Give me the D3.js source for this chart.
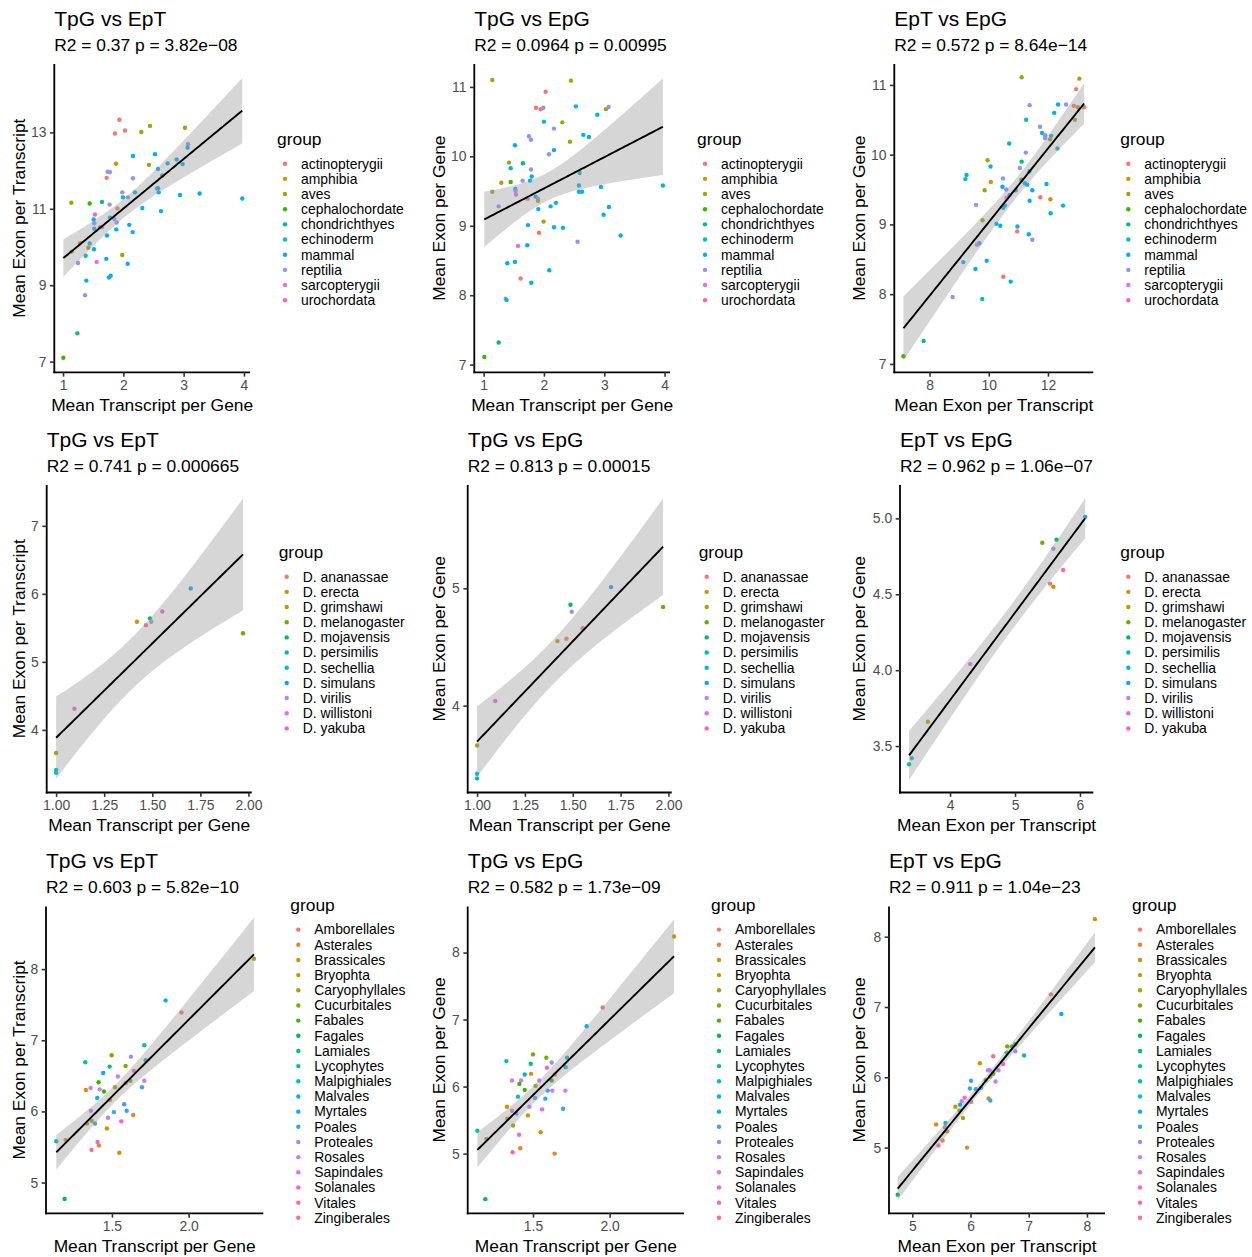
<!DOCTYPE html>
<html><head><meta charset="utf-8">
<script src="https://cdn.jsdelivr.net/npm/d3@7"></script>
<style>
body{margin:0;background:#fff}
svg{display:block}
text{font-family:"Liberation Sans",Arial,Helvetica,sans-serif}
</style>
</head><body>
<svg id="chart" width="1252" height="1257"></svg>
<script>
// ---------------- DATA ----------------
// Vertebrate dataset groups
const vertGroups = ["actinopterygii","amphibia","aves","cephalochordate","chondrichthyes","echinoderm","mammal","reptilia","sarcopterygii","urochordata"];
// [groupIndex, x, y]
const vertTpgEpt = [[0,1.934,13.33],[0,1.862,12.97],[0,2.028,13.05],[2,2.442,13.17],[2,2.298,13.01],[2,3.022,13.12],[7,3.072,12.69],[6,3.066,12.60],[6,2.160,12.38],[6,2.525,12.43],[6,2.884,12.29],[6,2.735,12.19],[6,2.983,12.17],[6,2.575,12.04],[5,2.646,11.87],[1,1.878,12.18],[2,2.425,12.15],[7,1.740,11.97],[7,1.779,11.96],[0,1.724,11.81],[7,2.160,11.80],[7,1.983,11.43],[6,2.193,11.43],[5,1.994,11.30],[7,2.077,11.30],[7,2.558,11.53],[6,2.586,11.43],[6,2.575,11.54],[6,2.939,11.36],[6,3.265,11.40],[6,3.972,11.27],[2,1.138,11.16],[3,1.442,11.14],[4,1.646,11.18],[7,1.773,11.11],[0,1.901,11.01],[6,2.315,11.02],[6,2.624,10.94],[9,1.530,10.85],[6,1.508,10.72],[6,1.779,10.77],[7,1.851,10.73],[7,1.890,10.64],[7,1.519,10.62],[0,1.613,10.52],[7,1.646,10.52],[6,1.519,10.48],[6,1.884,10.46],[6,2.099,10.58],[6,1.729,10.30],[6,2.155,10.39],[1,1.282,10.10],[6,1.442,10.09],[2,1.144,9.88],[2,1.420,9.98],[6,1.514,9.94],[5,1.376,9.77],[2,1.983,9.79],[6,1.718,9.69],[7,1.249,9.58],[8,1.558,9.61],[6,2.072,9.56],[6,1.387,9.12],[6,1.762,9.20],[6,1.790,9.25],[7,1.365,8.74],[4,1.238,7.74],[3,1.006,7.10]];
const vertTpgEpg = [[2,1.144,11.10],[2,2.448,11.09],[0,2.028,10.93],[0,1.867,10.70],[0,1.945,10.68],[7,1.989,10.70],[6,2.530,10.72],[2,3.028,10.68],[7,3.072,10.71],[6,2.884,10.60],[5,2.000,10.50],[2,2.304,10.49],[7,2.166,10.40],[7,1.751,10.29],[7,1.785,10.24],[6,2.652,10.31],[6,2.746,10.28],[2,2.431,10.21],[6,1.519,10.16],[6,2.166,10.09],[7,2.083,10.03],[2,1.420,9.91],[4,1.652,9.90],[6,1.448,9.83],[7,1.785,9.81],[5,2.591,9.76],[6,1.796,9.71],[1,1.293,9.62],[3,1.448,9.63],[7,1.646,9.65],[6,1.768,9.65],[6,2.580,9.58],[6,2.945,9.56],[6,3.972,9.58],[2,1.144,9.49],[6,1.525,9.53],[7,1.530,9.50],[8,1.536,9.45],[6,2.580,9.49],[6,2.630,9.49],[6,1.862,9.42],[0,1.729,9.39],[7,1.901,9.39],[1,1.901,9.36],[7,1.249,9.28],[6,2.110,9.28],[6,2.199,9.33],[6,1.906,9.24],[6,3.077,9.27],[6,2.989,9.16],[2,1.994,9.06],[6,1.735,9.01],[6,2.166,8.98],[6,2.315,8.97],[0,1.917,8.90],[6,3.271,8.86],[7,2.558,8.77],[8,1.569,8.71],[6,1.724,8.72],[6,1.392,8.46],[6,1.519,8.48],[6,2.088,8.36],[0,1.613,8.24],[6,1.790,8.18],[7,1.365,7.95],[5,1.381,7.93],[4,1.249,7.32],[3,1.011,7.11]];
const vertEptEpg = [[2,11.11,11.11],[2,13.06,11.09],[0,12.95,10.94],[7,11.38,10.71],[6,12.34,10.72],[7,12.61,10.72],[0,12.87,10.70],[2,13.01,10.68],[0,13.22,10.68],[6,12.21,10.60],[5,11.26,10.50],[2,12.91,10.50],[7,11.73,10.40],[6,11.80,10.31],[7,11.91,10.28],[7,11.90,10.24],[6,12.11,10.27],[2,12.07,10.22],[6,10.69,10.16],[6,12.32,10.09],[7,11.25,10.03],[2,9.96,9.92],[4,11.11,9.90],[6,10.06,9.83],[7,11.05,9.81],[6,11.37,9.76],[6,9.25,9.71],[6,9.21,9.65],[7,10.48,9.66],[1,10.07,9.61],[3,11.10,9.64],[6,11.22,9.59],[6,11.30,9.57],[6,11.95,9.58],[6,10.46,9.54],[2,9.86,9.49],[7,10.59,9.50],[6,10.91,9.49],[6,11.47,9.49],[0,11.74,9.39],[1,12.08,9.36],[6,10.70,9.42],[8,10.60,9.38],[6,11.38,9.34],[7,9.57,9.28],[6,12.51,9.27],[6,10.55,9.27],[6,10.49,9.24],[6,12.09,9.16],[2,9.79,9.06],[6,10.26,9.01],[6,10.39,8.98],[6,10.97,8.97],[0,10.96,8.90],[6,11.35,8.86],[7,11.47,8.78],[6,9.68,8.73],[8,9.60,8.71],[6,9.14,8.46],[6,9.93,8.48],[6,9.55,8.36],[0,10.49,8.25],[6,10.74,8.18],[7,8.78,7.96],[5,9.78,7.93],[4,7.80,7.33],[3,7.12,7.11]];

// Drosophila dataset
const droGroups = ["D. ananassae","D. erecta","D. grimshawi","D. melanogaster","D. mojavensis","D. persimilis","D. sechellia","D. simulans","D. virilis","D. willistoni","D. yakuba"];
const droTpg = [1.467,1.420,1.000,1.972,1.488,1.000,1.000,1.700,1.495,1.095,1.552];
const droEpt = [5.54,5.59,3.66,5.42,5.64,3.37,3.41,6.08,5.59,4.31,5.74];
const droEpg = [4.57,4.55,3.66,4.84,4.86,3.38,3.42,5.01,4.80,4.04,4.66];

// Plant dataset
const plantGroups = ["Amborellales","Asterales","Brassicales","Bryophta","Caryophyllales","Cucurbitales","Fabales","Fagales","Lamiales","Lycophytes","Malpighiales","Malvales","Myrtales","Poales","Proteales","Rosales","Sapindales","Solanales","Vitales","Zingiberales"];
const plantTpgEpt = [[3,2.426,8.145],[12,1.85,7.56],[0,1.954,7.39],[10,1.711,6.93],[10,1.72,6.72],[9,1.326,6.69],[5,1.498,6.79],[14,1.624,6.77],[8,1.485,6.63],[5,1.589,6.64],[12,1.443,6.54],[15,1.539,6.49],[18,1.643,6.57],[6,1.413,6.41],[2,1.33,6.30],[15,1.361,6.33],[15,1.42,6.31],[6,1.448,6.28],[4,1.52,6.34],[15,1.711,6.43],[5,1.62,6.43],[19,1.59,6.40],[13,1.696,6.34],[11,1.404,6.19],[2,1.487,6.16],[13,1.580,6.10],[13,1.596,6.01],[16,1.363,6.01],[13,1.513,5.99],[1,1.639,5.95],[15,1.474,5.91],[17,1.561,5.86],[4,1.367,5.87],[4,1.337,5.83],[13,1.389,5.83],[2,1.467,5.76],[9,1.137,5.58],[3,1.198,5.60],[17,1.406,5.57],[1,1.415,5.52],[18,1.367,5.46],[2,1.548,5.42],[7,1.191,4.77]];
const plantTpgEpg = [[3,2.42,8.24],[0,1.954,7.18],[12,1.85,6.90],[5,1.5,6.48],[5,1.587,6.43],[9,1.326,6.38],[10,1.722,6.43],[8,1.485,6.34],[14,1.622,6.36],[10,1.713,6.29],[19,1.591,6.28],[2,1.487,6.19],[12,1.446,6.18],[18,1.643,6.18],[15,1.363,6.09],[15,1.422,6.09],[15,1.541,6.09],[6,1.622,6.09],[6,1.411,6.04],[4,1.517,6.01],[6,1.446,5.95],[13,1.596,5.94],[15,1.626,5.94],[15,1.711,5.94],[11,1.402,5.85],[13,1.513,5.83],[13,1.580,5.82],[2,1.330,5.70],[15,1.476,5.70],[13,1.696,5.67],[17,1.559,5.66],[16,1.363,5.64],[13,1.391,5.60],[4,1.333,5.52],[2,1.467,5.57],[4,1.37,5.42],[2,1.55,5.32],[9,1.137,5.34],[17,1.409,5.28],[3,1.196,5.22],[1,1.417,5.08],[18,1.367,5.02],[1,1.641,5.00],[7,1.189,4.32]];
const plantEptEpg = [[3,8.137,8.25],[0,7.38,7.18],[12,7.56,6.90],[5,6.63,6.44],[8,6.71,6.44],[6,6.77,6.47],[9,6.62,6.35],[14,6.77,6.37],[10,6.92,6.31],[19,6.39,6.30],[2,6.16,6.20],[18,6.56,6.19],[15,6.30,6.10],[15,6.33,6.10],[15,6.48,6.10],[6,6.39,6.05],[4,6.34,6.01],[6,6.26,5.96],[13,6.01,5.95],[15,6.43,5.94],[13,5.99,5.84],[13,6.09,5.83],[11,6.18,5.85],[16,5.90,5.71],[2,6.31,5.70],[13,6.34,5.67],[2,5.74,5.58],[15,5.85,5.66],[12,5.82,5.61],[16,6.01,5.65],[4,5.81,5.53],[4,5.87,5.42],[2,5.41,5.33],[9,5.57,5.35],[17,5.56,5.29],[3,5.60,5.23],[1,5.52,5.10],[18,5.45,5.03],[1,5.94,5.00],[7,4.75,4.33]];

// Titles / subtitles
const panelTitles = ["TpG vs EpT","TpG vs EpG","EpT vs EpG","TpG vs EpT","TpG vs EpG","EpT vs EpG","TpG vs EpT","TpG vs EpG","EpT vs EpG"];
const panelSubtitles = ["R2 = 0.37 p = 3.82e\u221208","R2 = 0.0964 p = 0.00995","R2 = 0.572 p = 8.64e\u221214","R2 = 0.741 p = 0.000665","R2 = 0.813 p = 0.00015","R2 = 0.962 p = 1.06e\u221207","R2 = 0.603 p = 5.82e\u221210","R2 = 0.582 p = 1.73e\u221209","R2 = 0.911 p = 1.04e\u221223"];
const labTpg = "Mean Transcript per Gene", labEpt = "Mean Exon per Transcript", labEpg = "Mean Exon per Gene";

// Tick values and labels
const ticksTpgVert = [1,2,3,4], ticksTpgVertLab = ["1","2","3","4"];
const ticksEptVertY = [7,9,11,13], ticksEptVertYLab = ["7","9","11","13"];
const ticksEpgVert = [7,8,9,10,11], ticksEpgVertLab = ["7","8","9","10","11"];
const ticksEptVertX = [8,10,12], ticksEptVertXLab = ["8","10","12"];
const ticksTpgDro = [1,1.25,1.5,1.75,2], ticksTpgDroLab = ["1.00","1.25","1.50","1.75","2.00"];
const ticksEptDroY = [4,5,6,7], ticksEptDroYLab = ["4","5","6","7"];
const ticksEpgDroA = [4,5], ticksEpgDroALab = ["4","5"];
const ticksEptDroX = [4,5,6], ticksEptDroXLab = ["4","5","6"];
const ticksEpgDroB = [3.5,4,4.5,5], ticksEpgDroBLab = ["3.5","4.0","4.5","5.0"];
const ticksTpgPlant = [1.5,2], ticksTpgPlantLab = ["1.5","2.0"];
const ticksPlantY = [5,6,7,8], ticksPlantYLab = ["5","6","7","8"];
const ticksEptPlantX = [5,6,7,8], ticksEptPlantXLab = ["5","6","7","8"];

// ---------------- STYLE / LAYOUT ----------------
const pal10 = ["#F8766D","#D89000","#A3A500","#39B600","#00BF7D","#00BFC4","#00B0F6","#9590FF","#E76BF3","#FF62BC"];
const pal11 = ["#F8766D","#DB8E00","#AEA200","#64B200","#00BD5C","#00C1A7","#00BADE","#00A6FF","#B385FF","#EF67EB","#FF63B6"];
const pal20 = ["#F8766D","#EA8331","#D89000","#C09B00","#A3A500","#7CAE00","#39B600","#00BB4E","#00BF7D","#00C1A3","#00BFC4","#00BAE0","#00B0F6","#35A2FF","#9590FF","#C77CFF","#E76BF3","#FA62DB","#FF62BC","#FF6C91"];

const rowTop = [64, 485, 906.5], rowBot = [372.3, 792.5, 1213.3];
const rowTitleC = [18, 439.5, 860.5], rowSubC = [45, 466, 887];
const colX0 = [0, 420, 840];

const droTE = droGroups.map((g,i)=>[i, droTpg[i], droEpt[i]]);
const droTG = droGroups.map((g,i)=>[i, droTpg[i], droEpg[i]]);
const droEG = droGroups.map((g,i)=>[i, droEpt[i], droEpg[i]]);

const panels = [
 {pts:vertTpgEpt, groups:vertGroups, pal:pal10, xlab:labTpg, ylab:labEpt, xd:[0.856,4.10], yd:[6.72,14.79], xt:ticksTpgVert, xtl:ticksTpgVertLab, yt:ticksEptVertY, ytl:ticksEptVertYLab, L:54.3, R:250},
 {pts:vertTpgEpg, groups:vertGroups, pal:pal10, xlab:labTpg, ylab:labEpg, xd:[0.845,4.09], yd:[6.89,11.33], xt:ticksTpgVert, xtl:ticksTpgVertLab, yt:ticksEpgVert, ytl:ticksEpgVertLab, L:474.3, R:670},
 {pts:vertEptEpg, groups:vertGroups, pal:pal10, xlab:labEpt, ylab:labEpg, xd:[6.81,13.53], yd:[6.88,11.30], xt:ticksEptVertX, xtl:ticksEptVertXLab, yt:ticksEpgVert, ytl:ticksEpgVertLab, L:894.3, R:1093.3},
 {pts:droTE, groups:droGroups, pal:pal11, xlab:labTpg, ylab:labEpt, xd:[0.951,2.017], yd:[3.08,7.60], xt:ticksTpgDro, xtl:ticksTpgDroLab, yt:ticksEptDroY, ytl:ticksEptDroYLab, L:46.7, R:251.7},
 {pts:droTG, groups:droGroups, pal:pal11, xlab:labTpg, ylab:labEpg, xd:[0.951,2.017], yd:[3.26,5.88], xt:ticksTpgDro, xtl:ticksTpgDroLab, yt:ticksEpgDroA, ytl:ticksEpgDroALab, L:467.7, R:671.7},
 {pts:droEG, groups:droGroups, pal:pal11, xlab:labEpt, ylab:labEpg, xd:[3.23,6.205], yd:[3.194,5.22], xt:ticksEptDroX, xtl:ticksEptDroXLab, yt:ticksEpgDroB, ytl:ticksEpgDroBLab, L:900, R:1093.3},
 {pts:plantTpgEpt, groups:plantGroups, pal:pal20, xlab:labTpg, ylab:labEpt, xd:[1.070,2.487], yd:[4.568,8.88], xt:ticksTpgPlant, xtl:ticksTpgPlantLab, yt:ticksPlantY, ytl:ticksPlantYLab, L:46, R:263.3},
 {pts:plantTpgEpg, groups:plantGroups, pal:pal20, xlab:labTpg, ylab:labEpg, xd:[1.074,2.485], yd:[4.109,8.687], xt:ticksTpgPlant, xtl:ticksTpgPlantLab, yt:ticksPlantY, ytl:ticksPlantYLab, L:467.7, R:684},
 {pts:plantEptEpg, groups:plantGroups, pal:pal20, xlab:labEpt, ylab:labEpg, xd:[4.60,8.31], yd:[4.065,8.43], xt:ticksEptPlantX, xtl:ticksEptPlantXLab, yt:ticksPlantY, ytl:ticksPlantYLab, L:889, R:1105}
];

// ---------------- STATS ----------------
function tq975(nu){
  const z=1.959964, z3=z**3, z5=z**5, z7=z**7, z9=z**9;
  const g1=(z3+z)/4, g2=(5*z5+16*z3+3*z)/96, g3=(3*z7+19*z5+17*z3-15*z)/384,
        g4=(79*z9+776*z7+1482*z5-1920*z3-945*z)/92160;
  return z+g1/nu+g2/nu**2+g3/nu**3+g4/nu**4;
}
function lmFit(pts){
  const xs=pts.map(d=>d[1]), ys=pts.map(d=>d[2]), n=xs.length;
  const mx=d3.mean(xs), my=d3.mean(ys);
  let sxx=0,sxy=0; for(let i=0;i<n;i++){sxx+=(xs[i]-mx)**2; sxy+=(xs[i]-mx)*(ys[i]-my);}
  const b=sxy/sxx, a=my-b*mx;
  let sse=0; for(let i=0;i<n;i++){sse+=(ys[i]-a-b*xs[i])**2;}
  const s=Math.sqrt(sse/(n-2)), t=tq975(n-2);
  const [x0,x1]=d3.extent(xs);
  return d3.range(81).map(i=>{const x=x0+(x1-x0)*i/80, yh=a+b*x, se=s*Math.sqrt(1/n+(x-mx)**2/sxx);
    return {x, y:yh, lo:yh-t*se, hi:yh+t*se};});
}

// ---------------- DRAW ----------------
const svg=d3.select("#chart");
const FS_TITLE=21, FS_SUB=17.4, FS_AXT=17.4, FS_TICK=13.9, FS_LEGT=17.4, FS_LEG=13.9, PT_R=2.2;

panels.forEach((p,idx)=>{
  const row=Math.floor(idx/3), col=idx%3;
  const T=rowTop[row], B=rowBot[row];
  const x=d3.scaleLinear().domain(p.xd).range([p.L,p.R]);
  const y=d3.scaleLinear().domain(p.yd).range([B,T]);
  const g=svg.append("g");
  const cid="clip"+idx;
  g.append("clipPath").attr("id",cid).append("rect").attr("x",p.L).attr("y",T).attr("width",p.R-p.L).attr("height",B-T);
  const body=g.append("g").attr("clip-path",`url(#${cid})`);
  body.selectAll("circle").data(p.pts).join("circle")
    .attr("cx",d=>x(d[1])).attr("cy",d=>y(d[2])).attr("r",PT_R).attr("fill",d=>p.pal[d[0]]);
  const fit=lmFit(p.pts);
  body.append("path").datum(fit)
    .attr("d",d3.area().x(d=>x(d.x)).y0(d=>y(d.lo)).y1(d=>y(d.hi)))
    .attr("fill","#999999").attr("fill-opacity",0.4);
  body.append("path").datum(fit)
    .attr("d",d3.line().x(d=>x(d.x)).y(d=>y(d.y)))
    .attr("fill","none").attr("stroke","#000").attr("stroke-width",1.9);

  // axes
  const ax=g.append("g").attr("transform",`translate(0,${B})`)
    .call(d3.axisBottom(x).tickValues(p.xt).tickFormat((d,i)=>p.xtl[i]).tickSize(4.35).tickSizeOuter(0).tickPadding(3.2));
  const ay=g.append("g").attr("transform",`translate(${p.L},0)`)
    .call(d3.axisLeft(y).tickValues(p.yt).tickFormat((d,i)=>p.ytl[i]).tickSize(4.35).tickSizeOuter(0).tickPadding(3.5));
  [ax,ay].forEach(a=>{
    a.select(".domain").attr("stroke","#000").attr("stroke-width",1.8);
    a.selectAll(".tick line").attr("stroke","#333333").attr("stroke-width",1.6);
    a.selectAll(".tick text").attr("fill","#4D4D4D").attr("font-size",FS_TICK)
      .attr("font-family",'"Liberation Sans",Arial,sans-serif');
  });
  // fix domain line to exact panel extent
  ax.select(".domain").attr("d",`M${p.L-0.9},0H${p.R}`);
  ay.select(".domain").attr("d",`M0,${B+0.9}V${T}`);

  // titles
  g.append("text").attr("x",p.L).attr("y",rowTitleC[row]+0.36*FS_TITLE).attr("font-size",FS_TITLE).attr("fill","#000").text(panelTitles[idx]);
  g.append("text").attr("x",p.L).attr("y",rowSubC[row]+0.36*FS_SUB).attr("font-size",FS_SUB).attr("fill","#000").text(panelSubtitles[idx]);
  // axis titles
  g.append("text").attr("x",(p.L+p.R)/2).attr("y",B+32+0.36*FS_AXT).attr("text-anchor","middle").attr("font-size",FS_AXT).attr("fill","#000").text(p.xlab);
  const yc=(T+B)/2, xc=colX0[col]+18.3;
  g.append("text").attr("transform",`translate(${xc+0.36*FS_AXT},${yc}) rotate(-90)`).attr("text-anchor","middle").attr("font-size",FS_AXT).attr("fill","#000").text(p.ylab);

  // legend
  const n=p.groups.length, step=15.17;
  const tc=yc-(24+(n-1)*step)/2+1.8;
  const lg=g.append("g");
  lg.append("text").attr("x",p.R+27).attr("y",tc+0.33*FS_LEGT).attr("font-size",FS_LEGT).attr("fill","#000").text("group");
  p.groups.forEach((name,i)=>{
    const cy=tc+24+i*step;
    lg.append("circle").attr("cx",p.R+35).attr("cy",cy).attr("r",PT_R).attr("fill",p.pal[i]);
    lg.append("text").attr("x",p.R+51).attr("y",cy+0.35*FS_LEG).attr("font-size",FS_LEG).attr("fill","#000").text(name);
  });
});
</script>
</body></html>
